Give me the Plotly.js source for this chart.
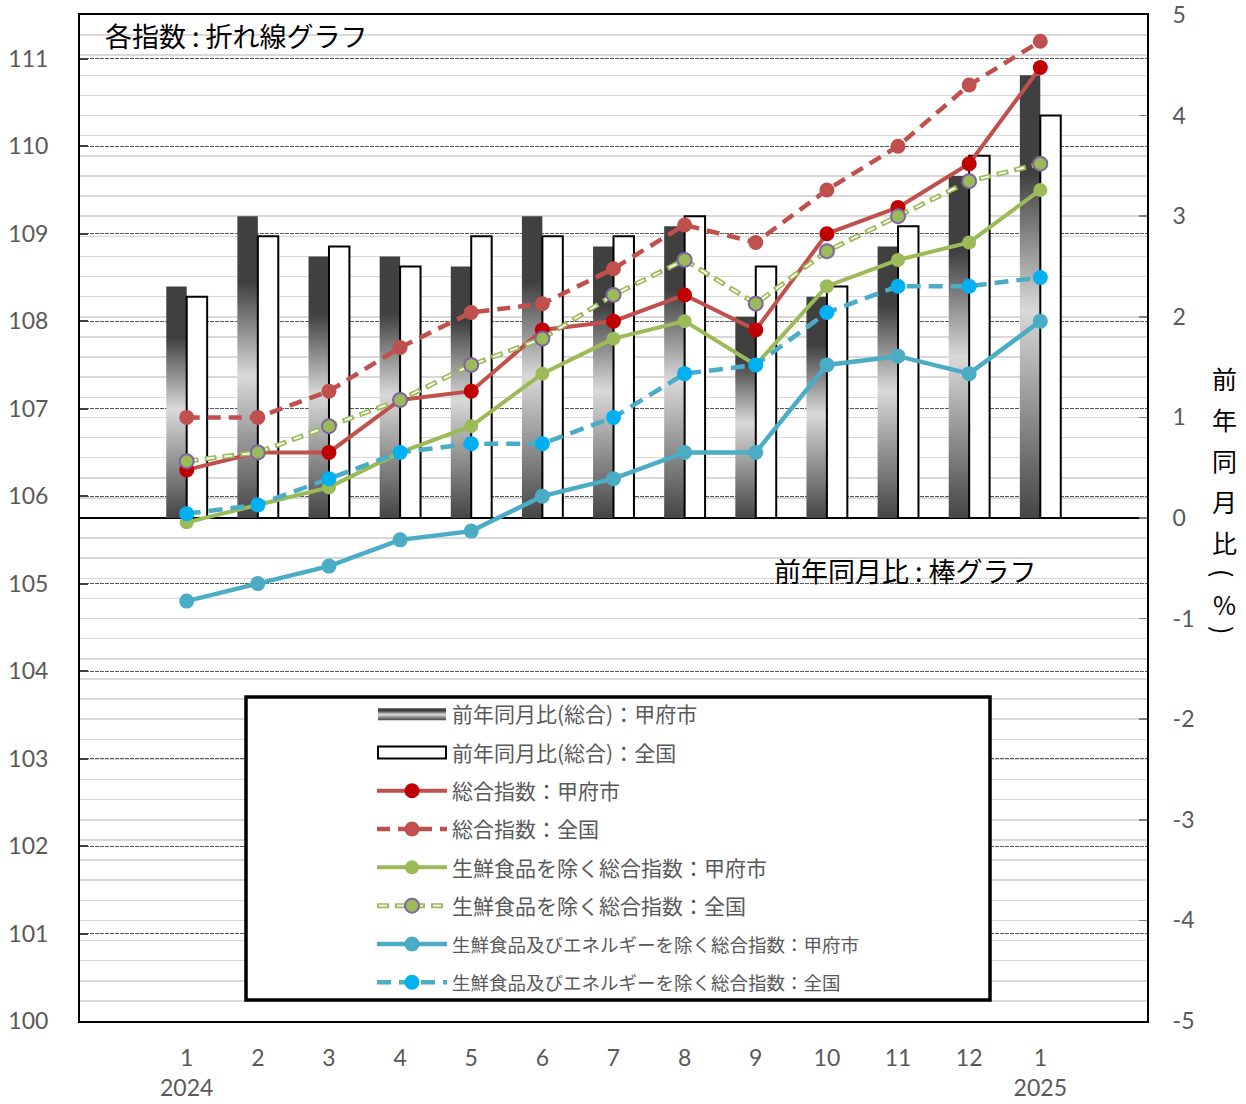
<!DOCTYPE html>
<html><head><meta charset="utf-8">
<script src="https://cdn.plot.ly/plotly-3.0.1.min.js"></script>
<style>html,body{margin:0;padding:0;background:#fff}#chart{width:1246px;height:1104px}</style>
</head><body><div id="chart"></div><script>
// ---- data ----
const months = ['2024-1','2024-2','2024-3','2024-4','2024-5','2024-6','2024-7','2024-8','2024-9','2024-10','2024-11','2024-12','2025-1'];
const monthLabels = ['1<br>2024','2','3','4','5','6','7','8','9','10','11','12','1<br>2025'];
const rightTickVals = [-5,-4,-3,-2,-1,0,1,2,3,4,5];
const rightTickText = ['-5','-4','-3','-2','-1','0','1','2','3','4','5'];
const yoyKofu     = [2.3,3.0,2.6,2.6,2.5,3.0,2.7,2.9,2.0,2.2,2.7,3.4,4.4];
const yoyZenkoku  = [2.2,2.8,2.7,2.5,2.8,2.8,2.8,3.0,2.5,2.3,2.9,3.6,4.0];
const sogoKofu    = [106.3,106.5,106.5,107.1,107.2,107.9,108.0,108.3,107.9,109.0,109.3,109.8,110.9];
const sogoZenkoku = [106.9,106.9,107.2,107.7,108.1,108.2,108.6,109.1,108.9,109.5,110.0,110.7,111.2];
const coreKofu    = [105.7,105.9,106.1,106.5,106.8,107.4,107.8,108.0,107.5,108.4,108.7,108.9,109.5];
const coreZenkoku = [106.4,106.5,106.8,107.1,107.5,107.8,108.3,108.7,108.2,108.8,109.2,109.6,109.8];
const ccKofu      = [104.8,105.0,105.2,105.5,105.6,106.0,106.2,106.5,106.5,107.5,107.6,107.4,108.0];
const ccZenkoku   = [105.8,105.9,106.2,106.5,106.6,106.6,106.9,107.4,107.5,108.1,108.4,108.4,108.5];
const names = [
  '前年同月比(総合)：甲府市',
  '前年同月比(総合)：全国',
  '総合指数：甲府市',
  '総合指数：全国',
  '生鮮食品を除く総合指数：甲府市',
  '生鮮食品を除く総合指数：全国',
  '<span style="font-size:18.5px">生鮮食品及びエネルギーを除く総合指数：甲府市</span>',
  '<span style="font-size:18.5px">生鮮食品及びエネルギーを除く総合指数：全国</span>'
];
const rightTitleChars = ['前','年','同','月','比','(','%',')'];
const rightTitleY = [378,419,460,501,542,573,604,630];
const rightTitleAngle = [0,0,0,0,0,90,0,90];

const JP = '"Noto Sans CJK JP", sans-serif';
const NUM = 'Lato, "Noto Sans", sans-serif';

const data = [
  {type:'bar', x:months, y:yoyKofu, yaxis:'y', name:names[0], legendgroup:'g0',
   marker:{color:'#404040', line:{width:0}}, hoverinfo:'skip'},
  {type:'bar', x:months, y:yoyZenkoku, yaxis:'y', name:names[1], legendgroup:'g1',
   marker:{color:'#ffffff', line:{color:'#000000', width:2}}, hoverinfo:'skip'},
  {type:'scatter', mode:'lines+markers', x:months, y:sogoKofu, yaxis:'y2', name:names[2], legendgroup:'g2',
   line:{color:'#C0504D', width:4}, marker:{color:'#C00000', size:15}},
  {type:'scatter', mode:'lines+markers', x:months, y:sogoZenkoku, yaxis:'y2', name:names[3], legendgroup:'g3',
   line:{color:'#C0504D', width:4.5, dash:'13px,8px'}, marker:{color:'#C0504D', size:15}},
  {type:'scatter', mode:'lines+markers', x:months, y:coreKofu, yaxis:'y2', name:names[4], legendgroup:'g4',
   line:{color:'#9BBB59', width:4}, marker:{color:'#9BBB59', size:14}},
  {type:'scatter', mode:'lines', x:months, y:coreZenkoku, yaxis:'y2', showlegend:false, legendgroup:'g5',
   line:{color:'#9BBB59', width:5, dash:'12px,6px'}, hoverinfo:'skip'},
  {type:'scatter', mode:'lines+markers', x:months, y:coreZenkoku, yaxis:'y2', name:names[5], legendgroup:'g5',
   line:{color:'#ffffff', width:1.8, dash:'0px,2px,8px,8px'},
   marker:{color:'#9BBB59', size:14, line:{color:'#8064A2', width:2}}},
  {type:'scatter', mode:'lines+markers', x:months, y:ccKofu, yaxis:'y2', name:names[6], legendgroup:'g6',
   line:{color:'#4BACC6', width:4.5}, marker:{color:'#4BACC6', size:15}},
  {type:'scatter', mode:'lines+markers', x:months, y:ccZenkoku, yaxis:'y2', name:names[7], legendgroup:'g7',
   line:{color:'#4BACC6', width:4.5, dash:'14px,8px'}, marker:{color:'#00B0F0', size:15}}
];

const annotations = [
  {xref:'paper', yref:'paper', x:(103-80)/1067, y:(1021-36)/1006, xanchor:'left', yanchor:'middle',
   text:'各指数 : 折れ線グラフ', showarrow:false, font:{family:JP, size:27, color:'#000'}},
  {xref:'paper', yref:'paper', x:(772-80)/1067, y:(1021-570)/1006, xanchor:'left', yanchor:'middle',
   text:'前年同月比 : 棒グラフ', showarrow:false, font:{family:JP, size:27, color:'#000'}}
];
rightTitleChars.forEach((c,i)=>{
  annotations.push({xref:'paper', yref:'paper', x:(1224-80)/1067, y:(1021-rightTitleY[i])/1006,
    xanchor:'center', yanchor:'middle', text:c, textangle:rightTitleAngle[i], showarrow:false,
    font:{family:JP, size:25, color:'#000'}});
});

const layout = {
  width:1246, height:1104,
  margin:{l:80, r:99, t:15, b:83, pad:0},
  paper_bgcolor:'#fff', plot_bgcolor:'#fff',
  showlegend:true,
  barmode:'group', bargap:0.425, bargroupgap:0,
  xaxis:{type:'category', range:[-1.5,13.5], tickvals:months, ticktext:monthLabels,
    showline:true, linecolor:'#000', linewidth:2, mirror:true, ticks:'', showgrid:false,
    tickfont:{family:NUM, size:23, color:'#595959'}, ticklabelstandoff:15, fixedrange:true},
  yaxis:{side:'right', range:[-5,5], tickvals:rightTickVals, ticktext:rightTickText,
    ticks:'inside', ticklen:8, tickcolor:'#7f7f7f', tickwidth:1.5,
    showline:true, linecolor:'#000', linewidth:2,
    showgrid:true, gridcolor:'#d9d9d9', gridwidth:1.5,
    minor:{dtick:0.2, showgrid:true, gridcolor:'#d9d9d9', gridwidth:1.5, ticks:''},
    zeroline:true, zerolinecolor:'#000', zerolinewidth:2,
    tickfont:{family:NUM, size:23, color:'#595959'}, ticklabelstandoff:19},
  yaxis2:{overlaying:'y', side:'left', range:[100,111.5], dtick:1, tick0:100,
    ticks:'inside', ticklen:8, tickcolor:'#404040', tickwidth:2,
    showline:true, linecolor:'#000', linewidth:2, zeroline:false,
    showgrid:true, gridcolor:'#595959', gridwidth:1, griddash:'4px,1px',
    tickfont:{family:NUM, size:23, color:'#595959'}, ticklabelstandoff:25},
  yaxis3:{overlaying:'y', side:'left', range:[100,111.5], tickvals:[102,108,110],
    showgrid:true, gridcolor:'#000', gridwidth:1, showticklabels:false, showline:false, ticks:'', zeroline:false},
  legend:{x:(372-80)/1067, y:(1021-694)/1006, xanchor:'left', yanchor:'top',
    bgcolor:'rgba(0,0,0,0)', borderwidth:0, traceorder:'grouped', tracegroupgap:8, itemwidth:70,
    font:{family:JP, size:21, color:'#595959'}},
  shapes:[{type:'rect', xref:'paper', yref:'paper', x0:(246-80)/1067, x1:(990-80)/1067,
    y0:(1021-1000)/1006, y1:(1021-697)/1006, line:{color:'#000', width:3.5}, fillcolor:'#fff', layer:'above'}],
  annotations:annotations
};

Plotly.newPlot('chart', data, layout, {staticPlot:true, displayModeBar:false}).then(gd=>{
  const ns = 'http://www.w3.org/2000/svg';
  const svg = gd.querySelector('svg.main-svg');
  let defs = svg.querySelector('defs');
  if(!defs){defs=document.createElementNS(ns,'defs'); svg.insertBefore(defs, svg.firstChild);}
  const grad = document.createElementNS(ns,'linearGradient');
  grad.setAttribute('id','barGradKofu');
  grad.setAttribute('x1','0'); grad.setAttribute('y1','0'); grad.setAttribute('x2','0'); grad.setAttribute('y2','1');
  [[0,'#404040'],[0.22,'#404040'],[0.53,'#d9d9d9'],[1,'#454545']].forEach(s=>{
    const st=document.createElementNS(ns,'stop');
    st.setAttribute('offset',s[0]); st.setAttribute('stop-color',s[1]); grad.appendChild(st);
  });
  defs.appendChild(grad);
  const barTraces = gd.querySelectorAll('.barlayer .trace');
  if(barTraces[0]) barTraces[0].querySelectorAll('path').forEach(p=>{p.style.fill='url(#barGradKofu)';});
  const legItems = gd.querySelectorAll('.legend .traces');
  [0,1].forEach(i=>{
    const it = legItems[i]; if(!it) return;
    it.querySelectorAll('.legendpoints path').forEach(p=>{
      p.setAttribute('d','M-34,6H34V-6H-34Z');
      if(i===0){p.style.fill='url(#barGradKofu)'; p.style.stroke='none';}
      else {p.style.fill='#fff'; p.style.stroke='#000'; p.style.strokeWidth='2px';}
    });
  });
  const g5 = legItems[5];
  if(g5){
    const lp = g5.querySelector('.legendlines path');
    if(lp){
      const c = lp.cloneNode(true);
      c.style.stroke='#9BBB59'; c.style.strokeWidth='5px'; c.style.strokeDasharray='12px,6px';
      lp.parentNode.insertBefore(c, lp);
    }
  }
});
</script></body></html>
